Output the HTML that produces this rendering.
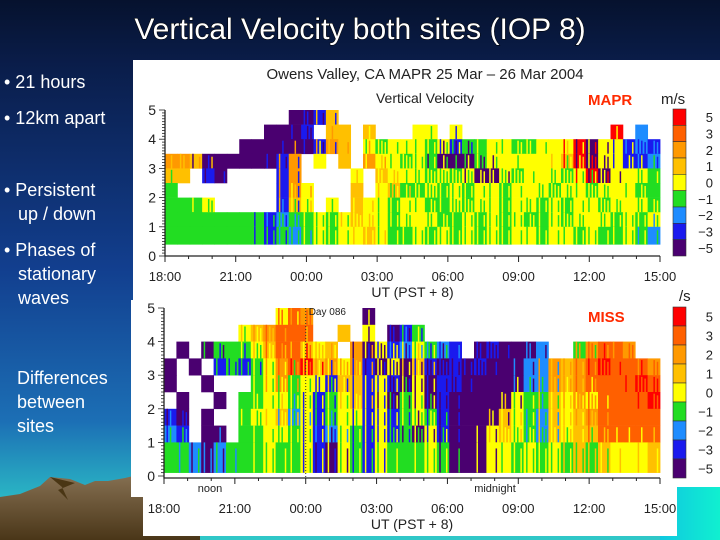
<!DOCTYPE html>
<html><head><meta charset="utf-8">
<style>
html,body{margin:0;padding:0;width:720px;height:540px;overflow:hidden;background:#0a1a44;}
svg{display:block}
text{font-family:"Liberation Sans",sans-serif;}
</style></head>
<body>
<svg id="s" width="720" height="540" viewBox="0 0 720 540">
<defs>
<linearGradient id="bg" x1="0" y1="0" x2="0" y2="1">
<stop offset="0" stop-color="#06122e"/><stop offset="0.12" stop-color="#0a1d4a"/>
<stop offset="0.5" stop-color="#123f8f"/><stop offset="0.78" stop-color="#1c6fb5"/>
<stop offset="0.92" stop-color="#2ab5c4"/><stop offset="1" stop-color="#30c8c8"/>
</linearGradient>
<linearGradient id="mt" x1="0" y1="0" x2="0" y2="1">
<stop offset="0" stop-color="#8a7456"/><stop offset="1" stop-color="#4a3618"/>
</linearGradient>
<linearGradient id="cy" x1="0" y1="0" x2="1" y2="0">
<stop offset="0" stop-color="#10c8e0"/><stop offset="1" stop-color="#10f0d0"/>
</linearGradient>
</defs>
<rect width="720" height="540" fill="url(#bg)"/>
<rect x="660" y="480" width="60" height="60" fill="url(#cy)"/>
<polygon points="0,497 20,494 40,486 50,477 70,479 85,485 95,481 108,481 125,478 150,472 180,470 200,476 200,540 0,540" fill="url(#mt)"/>
<polygon points="50,477 75,483 58,490 68,500 62,487" fill="#4a3614"/>
<text x="360" y="39" text-anchor="middle" font-size="30" fill="#fff" style="paint-order:stroke" stroke="#000" stroke-width="1">Vertical Velocity both sites (IOP 8)</text>
<g fill="#fff" font-size="18">
<text x="4" y="88">• 21 hours</text>
<text x="4" y="124">• 12km apart</text>
<text x="4" y="196">• Persistent</text>
<text x="18" y="220">up / down</text>
<text x="4" y="256">• Phases of</text>
<text x="18" y="280">stationary</text>
<text x="18" y="304">waves</text>
<text x="17" y="384">Differences</text>
<text x="17" y="408">between</text>
<text x="17" y="432">sites</text>
</g>
<rect x="133" y="60" width="587" height="240" fill="#fff"/>
<rect x="131" y="300" width="589" height="187" fill="#fff"/>
<rect x="131" y="487" width="546" height="10" fill="#fff"/>
<rect x="143" y="496" width="534" height="40" fill="#fff"/>
<text x="425" y="79" text-anchor="middle" font-size="15" fill="#222">Owens Valley, CA MAPR 25 Mar – 26 Mar 2004</text>
<text x="425" y="103" text-anchor="middle" font-size="14" fill="#222">Vertical Velocity</text>
<text x="588" y="105" font-size="15" font-weight="bold" fill="#ff2a00">MAPR</text>
<text x="661" y="104" font-size="15" fill="#222">m/s</text>
<text x="679" y="301" font-size="15" fill="#222">/s</text>
<text x="588" y="322" font-size="15" font-weight="bold" fill="#ff2a00">MISS</text>
<g id="c1"></g>
<g id="c2"></g>
</svg>
<script>
const timeLabels=["18:00","21:00","00:00","03:00","06:00","09:00","12:00","15:00"];
const altTicks=[0,1,2,3,4,5];
const cbLabels=["5","3","2","1","0","−1","−2","−3","−5"];
const palette=["#4a0070","#1a1aee","#1e8cff","#22dd22","#ffff00","#ffc000","#ff9900","#ff6000","#ff0000"];
// rows top (4.5-5 km) to bottom; chars: 0..8 velocity class, '.' = no data
const maprRows=[
"..........0015..........................",
"........0001.55.5...44.4............8.2.",
"......000000165.434443413344334448044121",
"66500000016.4.5.644343000344444458044112",
"55.10....16....4.54443434004344434804443",
"3........164...5.4533434344344434434443 3",
"3334.....154.4.544344334344344343443444 3",
"33333333123343454434443343434334344434 34",
"333333331323434454334343434344344343343 2"
];
const missRows=[
".........476....0........................",
"......456777..5.4.013...................",
".0.03334577545.604124321.01000 2..36776..",
"0.0.13134678564610405101010002265678777 6",
"0..0...346344155141040110000022656777787",
".0..0.33443413451403401000004335464777 78",
"10.0..34452413441413431000054325456777 77",
"21.00.33443412431413041000454325455777 77",
"3320233343341043143334300044343435354445"
];
const maprMinAlt=0.4, missMinAlt=0.1;
const NS="http://www.w3.org/2000/svg";
function mk(tag,attrs,parent){const e=document.createElementNS(NS,tag);for(const k in attrs)e.setAttribute(k,attrs[k]);parent.appendChild(e);return e;}
function clean(r){return r.replace(/ /g,"").padEnd(40,".").slice(0,40);}
function drawChart(g,rows,minAlt,x0,x1,y0,y5,cbTop,cbBot,axisY,tickY,utY){
  const xs=t=>x0+(x1-x0)*t/21;
  const ys=a=>y0+(y5-y0)*a/5;
  const n=40,cw=(x1-x0)/n;
  const grid=rows.map(clean);
  grid.forEach((row,ri)=>{
    const top=5-ri*0.5, bot=(ri===grid.length-1)?minAlt:top-0.5;
    for(let c=0;c<n;c++){
      const ch=row[c]; if(ch==='.')continue;
      const v=+ch;
      const yt=ys(top), h=ys(bot)-ys(top);
      const cell=mk("rect",{x:(x0+c*cw).toFixed(2),y:yt.toFixed(2),width:(cw+0.4).toFixed(2),height:(h+0.3).toFixed(2),fill:palette[v]},g);
      
      
      // streak texture: thin stripes using neighbouring cell values
      const nb=[row[c+1],(grid[ri+1]||row)[c],row[c-1]];
      nb.forEach((nc,k)=>{
        if(nc===undefined||nc==='.'||nc===ch)return;
        const st=mk("rect",{x:(x0+c*cw+cw*(0.2+k*0.27)).toFixed(2),y:(yt+h*0.1*k).toFixed(2),width:(cw*0.12).toFixed(2),height:(h*(1-0.1*k)).toFixed(2),fill:palette[+nc]},g);
        
        
      });
    }
  });
  const ax=mk("path",{d:`M${x0},${ys(5)}V${axisY}H${x1}`,stroke:"#222",fill:"none","stroke-width":1.3},g);
  
  
  for(let a=0;a<=5.001;a+=0.1){mk("line",{x1:x0-(Math.abs(a-Math.round(a))<0.01?6:3),x2:x0,y1:ys(a),y2:ys(a),stroke:"#222","stroke-width":0.8},g);}
  altTicks.forEach(a=>{const t=mk("text",{x:x0-9,y:ys(a)+5,"text-anchor":"end","font-size":14,fill:"#222"},g);t.textContent=a;
    
    });
  for(let h=0;h<=21;h++){mk("line",{x1:xs(h),x2:xs(h),y1:axisY,y2:axisY+(h%3===0?6:3),stroke:"#222","stroke-width":1},g);}
  timeLabels.forEach((l,i)=>{const t=mk("text",{x:xs(i*3),y:tickY,"text-anchor":"middle","font-size":13,fill:"#222"},g);t.textContent=l;
    
    });
  const ut=mk("text",{x:(x0+x1)/2,y:utY,"text-anchor":"middle","font-size":14,fill:"#222"},g);ut.textContent="UT   (PST + 8)";
  
  
  const bh=(cbBot-cbTop)/9;
  palette.slice().reverse().forEach((col,i)=>{const r=mk("rect",{x:673,y:cbTop+i*bh,width:13,height:bh,fill:col,stroke:"#333","stroke-width":0.6},g);
    
    
    const t=mk("text",{x:713,y:cbTop+i*bh+bh/2+5,"text-anchor":"end","font-size":13,fill:"#222"},g);t.textContent=cbLabels[i];
    
    });
}
drawChart(document.getElementById("c1"),maprRows,maprMinAlt,165,660,256,110,109,256,256,281,297);
drawChart(document.getElementById("c2"),missRows,missMinAlt,164,660,476,308,307,478,478,513,529);
const g2=document.getElementById("c2");
const xD=164+(660-164)*6/21;
const dl=mk("line",{x1:xD,x2:xD,y1:308,y2:478,stroke:"#333","stroke-dasharray":"1,2"},g2);


const dt=mk("text",{x:xD+3,y:315,"font-size":10,fill:"#222"},g2);dt.textContent="Day 086";


const nt=mk("text",{x:210,y:492,"text-anchor":"middle","font-size":11,fill:"#222"},g2);nt.textContent="noon";


const mt=mk("text",{x:495,y:492,"text-anchor":"middle","font-size":11,fill:"#222"},g2);mt.textContent="midnight";


</script>
</body></html>
